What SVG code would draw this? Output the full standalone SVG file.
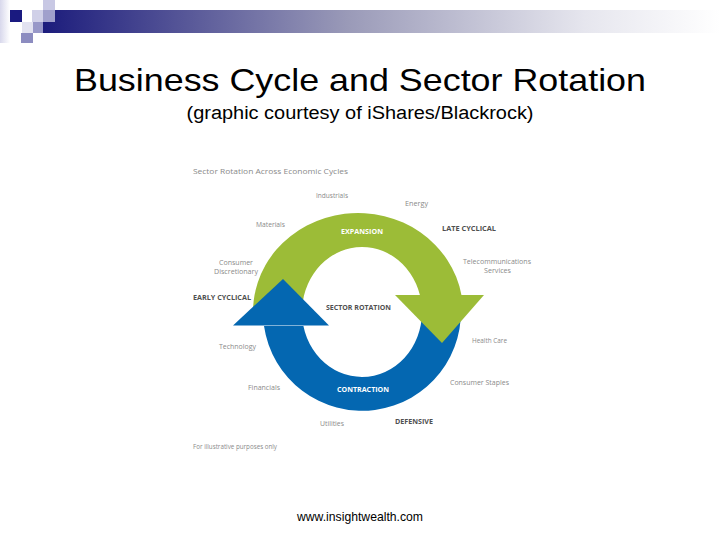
<svg xmlns="http://www.w3.org/2000/svg" width="720" height="540" viewBox="0 0 720 540">
<defs>
<linearGradient id="bar" x1="0" y1="0" x2="1" y2="0">
<stop offset="0" stop-color="#1c1c7c"/>
<stop offset="0.45" stop-color="#9a9ab8"/>
<stop offset="0.8" stop-color="#e6e6ee"/>
<stop offset="1" stop-color="#ffffff"/>
</linearGradient>
<linearGradient id="strip" x1="0" y1="0" x2="1" y2="0">
<stop offset="0" stop-color="#d8d8ec"/>
<stop offset="1" stop-color="#ffffff"/>
</linearGradient>
<style>
.lbl{font-family:"Open Sans","Noto Sans",sans-serif;font-size:7.5px;fill:#8a8a8a}
.bold{font-family:"Open Sans","Noto Sans",sans-serif;font-size:7.5px;font-weight:bold;fill:#505050}
.wht{font-family:"Open Sans","Noto Sans",sans-serif;font-size:7.5px;font-weight:bold;fill:#ffffff}
.title{font-family:"Liberation Sans",Arial,sans-serif;fill:#000}
.green{fill:#9cbc37}
.blue{fill:#0467b1}
</style>
</defs>
<rect width="720" height="540" fill="#ffffff"/>
<g id="header">
<rect x="0" y="0" width="10" height="43" fill="url(#strip)"/>
<rect x="43" y="10" width="677" height="23" fill="url(#bar)"/>
<rect x="10" y="10" width="12" height="12" fill="#1a1a80"/>
<rect x="43" y="0" width="12" height="10" fill="#c8c8e4"/>
<rect x="32" y="10" width="11" height="12" fill="#d0d0e8"/>
<rect x="43" y="10" width="12" height="12" fill="#a0a0cc"/>
<rect x="22" y="22" width="11" height="11" fill="#e2e2f0"/>
<rect x="33" y="22" width="10" height="11" fill="#9898c8"/>
<rect x="21" y="33" width="12" height="10" fill="#8c8cc0"/>
</g>
<g id="titles">
<text class="title" x="360" y="91" font-size="32" text-anchor="middle" textLength="572" lengthAdjust="spacingAndGlyphs">Business Cycle and Sector Rotation</text>
<text class="title" x="360" y="119" font-size="18" text-anchor="middle" textLength="347" lengthAdjust="spacingAndGlyphs">(graphic courtesy of iShares/Blackrock)</text>
<text class="title" x="360" y="521" font-size="13" text-anchor="middle" textLength="126" lengthAdjust="spacingAndGlyphs">www.insightwealth.com</text>
</g>
<g id="connectors">
<path id="contraction-band" class="blue" d="M 460.27 300 A 99 99 0 0 1 264 326 L 303.41 326 A 60 65 0 0 0 420.97 300 Z"/>
<path id="expansion-band" class="green" d="M 253.34 320 A 105 99 0 0 1 461.44 295 L 419.91 295 A 60 65 0 0 0 302.46 320 Z"/>
<polygon id="expansion-head" class="green" points="395,295 484,295 442,343"/>
<polygon id="contraction-head" class="blue" points="233,325.5 329,325.5 283,279"/>
</g>
<g id="cycle-labels">
<text class="lbl" x="193" y="174" font-size="8" textLength="155" lengthAdjust="spacingAndGlyphs">Sector Rotation Across Economic Cycles</text>
<text class="lbl" x="316" y="198" textLength="32" lengthAdjust="spacingAndGlyphs">Industrials</text>
<text class="lbl" x="405" y="206" textLength="23" lengthAdjust="spacingAndGlyphs">Energy</text>
<text class="lbl" x="256" y="227" textLength="29" lengthAdjust="spacingAndGlyphs">Materials</text>
<text class="wht" x="341" y="234" textLength="42" lengthAdjust="spacingAndGlyphs">EXPANSION</text>
<text class="bold" x="442" y="231" textLength="54" lengthAdjust="spacingAndGlyphs">LATE CYCLICAL</text>
<text class="lbl" x="219" y="265" textLength="34" lengthAdjust="spacingAndGlyphs">Consumer</text>
<text class="lbl" x="214" y="274" textLength="44" lengthAdjust="spacingAndGlyphs">Discretionary</text>
<text class="lbl" x="463" y="264" textLength="68" lengthAdjust="spacingAndGlyphs">Telecommunications</text>
<text class="lbl" x="484" y="273" textLength="27" lengthAdjust="spacingAndGlyphs">Services</text>
<text class="bold" x="193" y="300" textLength="58" lengthAdjust="spacingAndGlyphs">EARLY CYCLICAL</text>
<text class="bold" x="326" y="310" textLength="65" lengthAdjust="spacingAndGlyphs">SECTOR ROTATION</text>
<text class="lbl" x="219" y="349" textLength="37" lengthAdjust="spacingAndGlyphs">Technology</text>
<text class="lbl" x="472" y="343" textLength="35" lengthAdjust="spacingAndGlyphs">Health Care</text>
<text class="lbl" x="248" y="390" textLength="32" lengthAdjust="spacingAndGlyphs">Financials</text>
<text class="wht" x="337" y="392" textLength="52" lengthAdjust="spacingAndGlyphs">CONTRACTION</text>
<text class="lbl" x="450" y="385" textLength="59" lengthAdjust="spacingAndGlyphs">Consumer Staples</text>
<text class="lbl" x="320" y="426" textLength="24" lengthAdjust="spacingAndGlyphs">Utilities</text>
<text class="bold" x="395" y="424" textLength="38" lengthAdjust="spacingAndGlyphs">DEFENSIVE</text>
<text class="lbl" x="193" y="449" textLength="84" lengthAdjust="spacingAndGlyphs">For illustrative purposes only</text>
</g>
</svg>
